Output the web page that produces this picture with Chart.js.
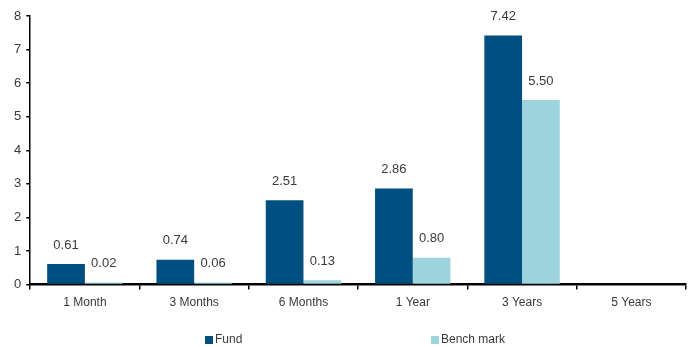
<!DOCTYPE html>
<html>
<head>
<meta charset="utf-8">
<script src="https://cdn.jsdelivr.net/npm/chart.js@4"></script>
<style>
html,body{margin:0;padding:0;background:#fff;}
#wrap{position:relative;width:700px;height:347px;}
</style>
</head>
<body>
<div id="wrap"><canvas id="c" width="700" height="347"></canvas></div>
<script>
const categories = ['1 Month', '3 Months', '6 Months', '1 Year', '3 Years', '5 Years'];
const fundValues = [0.61, 0.74, 2.51, 2.86, 7.42, null];
const benchmarkValues = [0.02, 0.06, 0.13, 0.80, 5.50, null];
const seriesNames = ['Fund', 'Bench mark'];
const yTicks = [0, 1, 2, 3, 4, 5, 6, 7, 8];

const FONT = "'Liberation Sans Narrow', 'Liberation Sans', Arial, sans-serif";
const TEXT = '#3a3a3a';
const colors = ['#004f80', '#9dd4de'];

const valueLabels = {
  id: 'valueLabels',
  afterDatasetsDraw(chart) {
    const ctx = chart.ctx;
    ctx.save();
    ctx.font = '13px ' + FONT;
    ctx.fillStyle = TEXT;
    ctx.textAlign = 'center';
    ctx.textBaseline = 'middle';
    chart.data.datasets.forEach((ds, i) => {
      const meta = chart.getDatasetMeta(i);
      meta.data.forEach((bar, j) => {
        const v = ds.data[j];
        if (v === null || v === undefined) return;
        ctx.fillText(v.toFixed(2), bar.x, Math.min(bar.y, chart.scales.y.getPixelForValue(0) - 2) - 19);
      });
    });
    ctx.restore();
  }
};

const bottomLegend = {
  id: 'bottomLegend',
  afterDraw(chart) {
    const ctx = chart.ctx;
    ctx.save();
    ctx.font = '12px ' + FONT;
    ctx.textBaseline = 'middle';
    const y = 340;
    const xs = [205, 431];
    chart.data.datasets.forEach((ds, i) => {
      ctx.fillStyle = ds.backgroundColor;
      ctx.fillRect(xs[i], y - 4, 8, 8);
      ctx.fillStyle = TEXT;
      ctx.textAlign = 'left';
      ctx.fillText(ds.label, xs[i] + 10, y);
    });
    ctx.restore();
  }
};

new Chart(document.getElementById('c'), {
  type: 'bar',
  data: {
    labels: categories,
    datasets: [
      { label: seriesNames[0], data: fundValues, backgroundColor: colors[0], borderWidth: 0 },
      { label: seriesNames[1], data: benchmarkValues, backgroundColor: colors[1], borderWidth: 0, minBarLength: 2 }
    ]
  },
  options: {
    responsive: false,
    animation: false,
    devicePixelRatio: 1,
    layout: { padding: { left: 9, right: 14, top: 16, bottom: 31 } },
    plugins: {
      legend: { display: false },
      tooltip: { enabled: false }
    },
    datasets: { bar: { categoryPercentage: 0.69, barPercentage: 1.0 } },
    scales: {
      x: {
        grid: { offset: true, drawOnChartArea: false, drawTicks: true, tickLength: 5, color: '#000', lineWidth: 1.5 },
        border: { color: '#000', width: 2.5 },
        ticks: { font: { family: FONT, size: 12 }, color: TEXT, padding: 6, maxRotation: 0 }
      },
      y: {
        min: 0, max: 8,
        afterBuildTicks(scale) { scale.ticks = yTicks.map(v => ({ value: v })); },
        grid: { drawOnChartArea: false, drawTicks: true, tickLength: 4, color: '#000', lineWidth: 1.5 },
        border: { color: '#000', width: 1.5 },
        ticks: { font: { family: FONT, size: 13 }, color: TEXT, padding: 5 }
      }
    }
  },
  plugins: [valueLabels, bottomLegend]
});
</script>
</body>
</html>
